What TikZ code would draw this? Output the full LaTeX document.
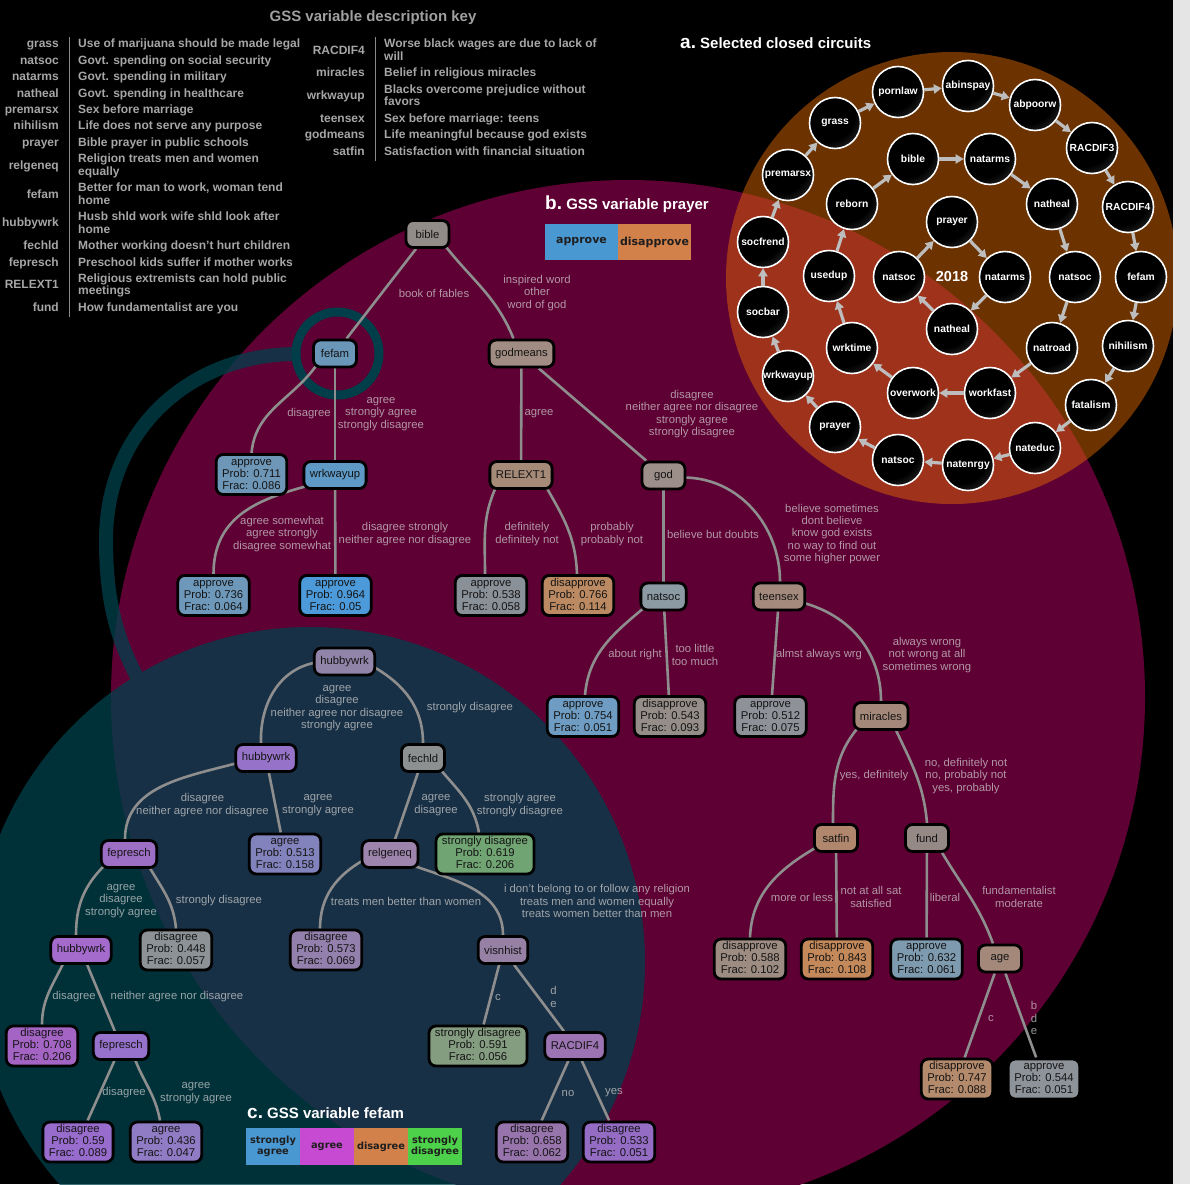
\documentclass[tikz,border=0pt]{standalone}
\usepackage{fontspec}
\setmainfont{Liberation Sans}
\newfontfamily\legfont{DejaVu Sans}
\usetikzlibrary{arrows.meta,calc}
\pgfdeclarelayer{bg}
\pgfdeclarelayer{edgelayer}
\pgfsetlayers{bg,edgelayer,main}
\pgfdeclareradialshading{cballshade}{\pgfpoint{-12bp}{14bp}}{color(0bp)=(black);color(28bp)=(black);color(70bp)=(black!42!white);color(90bp)=(black!42!white)}

\definecolor{cMaroon}{HTML}{5E0033}
\definecolor{cTeal}{HTML}{01414C}
\definecolor{cRing}{HTML}{003E49}
\definecolor{cOrg}{HTML}{E66C00}
\definecolor{cStrip}{HTML}{E5E5E5}
\definecolor{cArrow}{HTML}{BDBDBD}
\definecolor{cEdge}{HTML}{8E8E8E}
\definecolor{cLab}{HTML}{D2D2D2}
\definecolor{cKey}{HTML}{A6A6A6}
\definecolor{cKeyLine}{HTML}{8A8A8A}
\definecolor{cTitle}{HTML}{A0A0A0}
\definecolor{cLegBlue}{HTML}{4A98D2}
\definecolor{cLegOrg}{HTML}{D3814A}
\definecolor{cLegMag}{HTML}{C74BD2}
\definecolor{cLegGrn}{HTML}{4DD04A}
\definecolor{cLegTxt}{HTML}{1E1E1E}
% tree b fills
\definecolor{fBible}{HTML}{928C89}
\definecolor{fFefam}{HTML}{6A96B8}
\definecolor{fGodm}{HTML}{A08C82}
\definecolor{fA711}{HTML}{6E96B6}
\definecolor{fWrk}{HTML}{5F9AC6}
\definecolor{fRelext}{HTML}{A58A78}
\definecolor{fA736}{HTML}{6E98BA}
\definecolor{fA964}{HTML}{4C9ADA}
\definecolor{fA538}{HTML}{8A9098}
\definecolor{fD766}{HTML}{BC8A62}
\definecolor{fGod}{HTML}{9C8E88}
\definecolor{fNatsoc}{HTML}{8C9AA4}
\definecolor{fTeen}{HTML}{A48A7C}
\definecolor{fA754}{HTML}{6E9CC2}
\definecolor{fD543}{HTML}{958E88}
\definecolor{fA512}{HTML}{8E9298}
\definecolor{fMir}{HTML}{A4897A}
\definecolor{fSatfin}{HTML}{B0876C}
\definecolor{fFund}{HTML}{958986}
\definecolor{fD588}{HTML}{9C8C82}
\definecolor{fD843}{HTML}{C4895A}
\definecolor{fA632}{HTML}{7E9AAE}
\definecolor{fAge}{HTML}{A4897A}
\definecolor{fD747}{HTML}{B48A6C}
\definecolor{fA544}{HTML}{8E9299}
% tree c fills
\definecolor{fHw1}{HTML}{9084A8}
\definecolor{fHw2}{HTML}{9673C8}
\definecolor{fFechld}{HTML}{8C9090}
\definecolor{fFep1}{HTML}{9C6EC4}
\definecolor{fA513}{HTML}{8282BC}
\definecolor{fRelg}{HTML}{9C84AC}
\definecolor{fS619}{HTML}{70A472}
\definecolor{fHw3}{HTML}{A46ACC}
\definecolor{fD448}{HTML}{8C9296}
\definecolor{fD573}{HTML}{9480AC}
\definecolor{fVis}{HTML}{9680A4}
\definecolor{fD708}{HTML}{A464C4}
\definecolor{fFep2}{HTML}{9672CC}
\definecolor{fS591}{HTML}{849C80}
\definecolor{fRac}{HTML}{9C74B4}
\definecolor{fD590}{HTML}{986CCC}
\definecolor{fA436}{HTML}{907CC4}
\definecolor{fD658}{HTML}{9874AC}
\definecolor{fD533}{HTML}{946CC4}

\newcommand{\tnfont}{\fontsize{11.3}{12}\selectfont}
\newcommand{\labfont}{\fontsize{11.3}{12.3}\selectfont}
\newcommand{\keyfont}{\fontsize{12}{13}\selectfont\bfseries}
\newcommand{\circfont}{\fontsize{10.3}{11}\selectfont\bfseries}
\newcommand{\legAfont}{\legfont\fontsize{11}{12}\selectfont\bfseries}
\newcommand{\legBfont}{\legfont\fontsize{9.8}{11}\selectfont\bfseries}
\newcommand{\circnode}[3]{\node[cball] (#1) at (#2) {}; \node[ctxt] at (#1.center) {#3};}
\newcommand{\keyL}[3]{\node[keyt, anchor=mid east] at (#1,-#2) {#3};}
\newcommand{\keyR}[3]{\node[keyt, anchor=mid west] at (#1,-#2) {#3};}
\newcommand{\leaftext}[3]{\rule[-0pt]{0pt}{8.6pt}#1\\#2\\#3\rule[-3.4pt]{0pt}{3.4pt}}

\begin{document}
\begin{tikzpicture}[x=1pt,y=1pt,
  tn/.style={draw=black, line width=2.8pt, rounded corners=7pt, inner xsep=6pt, inner ysep=2pt, minimum height=27pt, minimum width=43pt, align=center, font=\tnfont, text=black!92},
  lab/.style={font=\labfont, text=cLab, text opacity=0.72, align=center, inner sep=0pt},
  edge/.style={draw=cEdge, line width=2.6pt},
  cball/.style={circle, minimum size=51pt, inner sep=0pt, draw=white, line width=1.6pt, shade, shading=cballshade},
  ctxt/.style={text=white, font=\circfont, inner sep=0pt},
  carr/.style={draw=cArrow, line width=3.2pt, -{Triangle[length=8pt,width=9pt]}},
  keyt/.style={font=\keyfont, text=cKey, inner sep=0pt},
  legbox/.style={inner sep=0pt, align=center, text=cLegTxt}
]
\useasboundingbox (0,0) rectangle (1190,-1184);

% ---------------- backgrounds ----------------
\begin{pgfonlayer}{bg}
\fill[black] (0,0) rectangle (1190,-1184);
\begin{scope}
\clip (0,0) rectangle (1190,-1184);
\fill[cMaroon] (628,-697) circle (517);
\fill[cTeal, opacity=0.75] (310,-962) circle (335);
\begin{scope}
\clip (1190,0) -- (1190,-1184) -- (0,-1184) -- (0,0) -- cycle (310,-962) circle (335);
\draw[cTeal, opacity=0.75, line width=14pt] (297,-354) .. controls (190,-354) and (106,-430) .. (106,-540) .. controls (106,-610) and (120,-650) .. (150,-700);
\end{scope}
\draw[cRing, line width=9pt] (337.5,-353.5) circle (41.5);
\fill[cOrg, opacity=0.47] (952,-278) circle (226);
\end{scope}
\end{pgfonlayer}

% ---------------- key ----------------
\node[font=\fontsize{15}{16}\selectfont\bfseries, text=cTitle, inner sep=0pt] at (373,-18) {GSS variable description key};
\draw[cKeyLine, line width=1pt] (69,-37) -- (69,-317);
\draw[cKeyLine, line width=1pt] (375,-37) -- (375,-161);
\keyL{59}{45}{grass}\keyR{78}{45}{Use of marijuana should be made legal}
\keyL{59}{62}{natsoc}\keyR{78}{62}{Govt. spending on social security}
\keyL{59}{78}{natarms}\keyR{78}{78}{Govt. spending in military}
\keyL{59}{95}{natheal}\keyR{78}{95}{Govt. spending in healthcare}
\keyL{59}{111}{premarsx}\keyR{78}{111}{Sex before marriage}
\keyL{59}{127}{nihilism}\keyR{78}{127}{Life does not serve any purpose}
\keyL{59}{144}{prayer}\keyR{78}{144}{Bible prayer in public schools}
\keyL{59}{167}{relgeneq}\keyR{78}{160}{Religion treats men and women}\keyR{78}{173}{equally}
\keyL{59}{196}{fefam}\keyR{78}{189}{Better for man to work, woman tend}\keyR{78}{202}{home}
\keyL{59}{224}{hubbywrk}\keyR{78}{218}{Husb shld work wife shld look after}\keyR{78}{231}{home}
\keyL{59}{247}{fechld}\keyR{78}{247}{Mother working doesn't hurt children}
\keyL{59}{264}{fepresch}\keyR{78}{264}{Preschool kids suffer if mother works}
\keyL{59}{286}{RELEXT1}\keyR{78}{280}{Religious extremists can hold public}\keyR{78}{292}{meetings}
\keyL{59}{309}{fund}\keyR{78}{309}{How fundamentalist are you}
\keyL{365}{52}{RACDIF4}\keyR{384}{45}{Worse black wages are due to lack of}\keyR{384}{58}{will}
\keyL{365}{74}{miracles}\keyR{384}{74}{Belief in religious miracles}
\keyL{365}{97}{wrkwayup}\keyR{384}{91}{Blacks overcome prejudice without}\keyR{384}{103}{favors}
\keyL{365}{120}{teensex}\keyR{384}{120}{Sex before marriage: teens}
\keyL{365}{136}{godmeans}\keyR{384}{136}{Life meaningful because god exists}
\keyL{365}{153}{satfin}\keyR{384}{153}{Satisfaction with financial situation}

% ---------------- headings & legends ----------------
\node[anchor=base west, text=white, inner sep=0pt] at (680,-48) {\fontsize{19}{20}\selectfont\bfseries a.\fontsize{15}{16}\selectfont\ Selected closed circuits};
\node[anchor=base west, text=white, inner sep=0pt] at (545,-209) {\fontsize{19}{20}\selectfont\bfseries b.\fontsize{15}{16}\selectfont\ GSS variable prayer};
\node[anchor=base west, text=white, inner sep=0pt] at (247,-1118) {\fontsize{19}{20}\selectfont\bfseries c.\fontsize{15}{16}\selectfont\ GSS variable fefam};
\node[legbox, fill=cLegBlue, minimum width=73pt, minimum height=36pt, font=\legAfont] (lgb1) at (581.5,-242) {approve};
\node[legbox, fill=cLegOrg, minimum width=73pt, minimum height=36pt, font=\legAfont] (lgb2) at (654.5,-242) {disapprove};
\node[legbox, fill=cLegBlue, minimum width=54pt, minimum height=37pt, font=\legBfont] (lgc1) at (273,-1146.5) {strongly\\agree};
\node[legbox, fill=cLegMag, minimum width=54pt, minimum height=37pt, font=\legBfont] (lgc2) at (327,-1146.5) {agree};
\node[legbox, fill=cLegOrg, minimum width=54pt, minimum height=37pt, font=\legBfont] (lgc3) at (381,-1146.5) {disagree};
\node[legbox, fill=cLegGrn, minimum width=54pt, minimum height=37pt, font=\legBfont] (lgc4) at (435,-1146.5) {strongly\\disagree};

% ---------------- circuits ----------------
\circnode{cgrass}{835,-123}{grass}
\circnode{cpornlaw}{898,-92}{pornlaw}
\circnode{cabinspay}{968,-86}{abinspay}
\circnode{cabpoorw}{1035,-105}{abpoorw}
\circnode{cracdifthree}{1092,-148}{RACDIF3}
\circnode{cracdiffour}{1128,-207}{RACDIF4}
\circnode{cfefam}{1141,-277}{fefam}
\circnode{cnihilism}{1128,-346}{nihilism}
\circnode{cfatalism}{1091,-405}{fatalism}
\circnode{cnateduc}{1035,-448}{nateduc}
\circnode{cnatenrgy}{968,-465}{natenrgy}
\circnode{cnatsocO}{898,-460}{natsoc}
\circnode{cprayerO}{835,-427}{prayer}
\circnode{cwrkwayup}{788,-376}{wrkwayup}
\circnode{csocbar}{763,-312}{socbar}
\circnode{csocfrend}{763,-242}{socfrend}
\circnode{cpremarsx}{788,-175}{premarsx}
\circnode{cbible}{913,-159}{bible}
\circnode{cnatarmsM}{990,-159}{natarms}
\circnode{cnathealM}{1052,-204}{natheal}
\circnode{cnatsocM}{1075,-277}{natsoc}
\circnode{cnatroad}{1052,-348}{natroad}
\circnode{cworkfast}{990,-393}{workfast}
\circnode{coverwork}{913,-393}{overwork}
\circnode{cwrktime}{852,-348}{wrktime}
\circnode{cusedup}{829,-276}{usedup}
\circnode{creborn}{852,-204}{reborn}
\circnode{cprayerI}{952,-222}{prayer}
\circnode{cnatarmsI}{1005,-277}{natarms}
\circnode{cnathealI}{952,-329}{natheal}
\circnode{cnatsocI}{899,-277}{natsoc}
\node[text=white, font=\fontsize{14.5}{15}\selectfont\bfseries, inner sep=0pt] (c2018) at (952,-277) {2018};

\draw[carr] (cgrass) -- (cpornlaw);
\draw[carr] (cpornlaw) -- (cabinspay);
\draw[carr] (cabinspay) -- (cabpoorw);
\draw[carr] (cabpoorw) -- (cracdifthree);
\draw[carr] (cracdifthree) -- (cracdiffour);
\draw[carr] (cracdiffour) -- (cfefam);
\draw[carr] (cfefam) -- (cnihilism);
\draw[carr] (cnihilism) -- (cfatalism);
\draw[carr] (cfatalism) -- (cnateduc);
\draw[carr] (cnateduc) -- (cnatenrgy);
\draw[carr] (cnatenrgy) -- (cnatsocO);
\draw[carr] (cnatsocO) -- (cprayerO);
\draw[carr] (cprayerO) -- (cwrkwayup);
\draw[carr] (cwrkwayup) -- (csocbar);
\draw[carr] (csocbar) -- (csocfrend);
\draw[carr] (csocfrend) -- (cpremarsx);
\draw[carr] (cpremarsx) -- (cgrass);
\draw[carr] (cbible) -- (cnatarmsM);
\draw[carr] (cnatarmsM) -- (cnathealM);
\draw[carr] (cnathealM) -- (cnatsocM);
\draw[carr] (cnatsocM) -- (cnatroad);
\draw[carr] (cnatroad) -- (cworkfast);
\draw[carr] (cworkfast) -- (coverwork);
\draw[carr] (coverwork) -- (cwrktime);
\draw[carr] (cwrktime) -- (cusedup);
\draw[carr] (cusedup) -- (creborn);
\draw[carr] (creborn) -- (cbible);
\draw[carr] (cprayerI) -- (cnatarmsI);
\draw[carr] (cnatarmsI) -- (cnathealI);
\draw[carr] (cnathealI) -- (cnatsocI);
\draw[carr] (cnatsocI) -- (cprayerI);

% ---------------- tree b nodes ----------------
\node[tn, fill=fBible] (bible) at (427.5,-234) {bible};
\node[tn, fill=fFefam] (fefam) at (335,-353.5) {fefam};
\node[tn, fill=fGodm] (godmeans) at (521.5,-353.5) {godmeans};
\node[tn, fill=fA711] (l711) at (251.5,-474.5) {\leaftext{approve}{Prob: 0.711}{Frac: 0.086}};
\node[tn, fill=fWrk] (wrkwayup) at (335,-475) {wrkwayup};
\node[tn, fill=fRelext] (relext) at (521,-475) {RELEXT1};
\node[tn, fill=fGod] (god) at (663.5,-475.5) {god};
\node[tn, fill=fA736] (l736) at (213.5,-595.5) {\leaftext{approve}{Prob: 0.736}{Frac: 0.064}};
\node[tn, fill=fA964] (l964) at (335.5,-595.5) {\leaftext{approve}{Prob: 0.964}{Frac: 0.05}};
\node[tn, fill=fA538] (l538) at (491,-595.5) {\leaftext{approve}{Prob: 0.538}{Frac: 0.058}};
\node[tn, fill=fD766] (l766) at (578,-595.5) {\leaftext{disapprove}{Prob: 0.766}{Frac: 0.114}};
\node[tn, fill=fNatsoc] (natsocT) at (663.5,-596.5) {natsoc};
\node[tn, fill=fTeen] (teensex) at (779,-596.5) {teensex};
\node[tn, fill=fA754] (l754) at (583,-716.5) {\leaftext{approve}{Prob: 0.754}{Frac: 0.051}};
\node[tn, fill=fD543] (l543) at (670,-716.5) {\leaftext{disapprove}{Prob: 0.543}{Frac: 0.093}};
\node[tn, fill=fA512] (l512) at (770.5,-716.5) {\leaftext{approve}{Prob: 0.512}{Frac: 0.075}};
\node[tn, fill=fMir] (miracles) at (881,-716) {miracles};
\node[tn, fill=fSatfin] (satfin) at (836,-838) {satfin};
\node[tn, fill=fFund] (fund) at (927,-838) {fund};
\node[tn, fill=fD588] (l588) at (750,-959) {\leaftext{disapprove}{Prob: 0.588}{Frac: 0.102}};
\node[tn, fill=fD843] (l843) at (837,-959) {\leaftext{disapprove}{Prob: 0.843}{Frac: 0.108}};
\node[tn, fill=fA632] (l632) at (926.5,-959) {\leaftext{approve}{Prob: 0.632}{Frac: 0.061}};
\node[tn, fill=fAge] (age) at (1000,-958.5) {age};
\node[tn, fill=fD747] (l747) at (957,-1079) {\leaftext{disapprove}{Prob: 0.747}{Frac: 0.088}};
\node[tn, fill=fA544] (l544) at (1044,-1079) {\leaftext{approve}{Prob: 0.544}{Frac: 0.051}};

% ---------------- tree c nodes ----------------
\node[tn, fill=fHw1] (hw1) at (344.5,-661.5) {hubbywrk};
\node[tn, fill=fHw2] (hw2) at (266,-758) {hubbywrk};
\node[tn, fill=fFechld] (fechld) at (423,-758) {fechld};
\node[tn, fill=fFep1] (fep1) at (129,-854) {fepresch};
\node[tn, fill=fA513] (l513) at (285,-854) {\leaftext{agree}{Prob: 0.513}{Frac: 0.158}};
\node[tn, fill=fRelg] (relgeneq) at (390,-854) {relgeneq};
\node[tn, fill=fS619] (l619) at (485,-854) {\leaftext{strongly disagree}{Prob: 0.619}{Frac: 0.206}};
\node[tn, fill=fHw3] (hw3) at (81,-950) {hubbywrk};
\node[tn, fill=fD448] (l448) at (176,-950) {\leaftext{disagree}{Prob: 0.448}{Frac: 0.057}};
\node[tn, fill=fD573] (l573) at (326,-950) {\leaftext{disagree}{Prob: 0.573}{Frac: 0.069}};
\node[tn, fill=fVis] (visnhist) at (503,-950) {visnhist};
\node[tn, fill=fD708] (l708) at (42,-1046) {\leaftext{disagree}{Prob: 0.708}{Frac: 0.206}};
\node[tn, fill=fFep2] (fep2) at (121,-1046) {fepresch};
\node[tn, fill=fS591] (l591) at (478,-1046) {\leaftext{strongly disagree}{Prob: 0.591}{Frac: 0.056}};
\node[tn, fill=fRac] (racdifT) at (575,-1046) {RACDIF4};
\node[tn, fill=fD590] (l590) at (78,-1142) {\leaftext{disagree}{Prob: 0.59}{Frac: 0.089}};
\node[tn, fill=fA436] (l436) at (166,-1142) {\leaftext{agree}{Prob: 0.436}{Frac: 0.047}};
\node[tn, fill=fD658] (l658) at (532,-1142) {\leaftext{disagree}{Prob: 0.658}{Frac: 0.062}};
\node[tn, fill=fD533] (l533) at (619,-1142) {\leaftext{disagree}{Prob: 0.533}{Frac: 0.051}};

% ---------------- edges ----------------
\begin{pgfonlayer}{edgelayer}
\draw[edge] (bible) -- (fefam);
\draw[edge] ($(bible.south east)+(-6,4)$) to[out=-52,in=112] ($(godmeans.north)+(-8,0)$);
\draw[edge] ($(fefam.south west)+(5,4)$) to[out=-125,in=85] (l711.north);
\draw[edge] (fefam) -- (wrkwayup);
\draw[edge] ($(wrkwayup.south west)+(5,4)$) to[out=195,in=90,looseness=1.1] (l736.north);
\draw[edge] (wrkwayup) -- (l964);
\draw[edge] (godmeans) -- (relext);
\draw[edge] (godmeans) -- (god);
\draw[edge] ($(relext.south west)+(8,4)$) to[out=-115,in=90] ($(l538.north)+(-6,0)$);
\draw[edge] ($(relext.south east)+(-8,4)$) to[out=-60,in=92] ($(l766.north)+(-1,0)$);
\draw[edge] (god) -- (natsocT);
\draw[edge] ($(god.east)+(-3,-2)$) to[out=0,in=90] ($(teensex.north)+(1,0)$);
\draw[edge] ($(natsocT.south west)+(5,4)$) to[out=-140,in=85] ($(l754.north)+(2,0)$);
\draw[edge] (natsocT) -- (l543);
\draw[edge] (teensex) -- (l512);
\draw[edge] ($(teensex.east)+(-4,-6)$) to[out=-15,in=90] (miracles.north);
\draw[edge] ($(miracles.south west)+(6,4)$) to[out=-130,in=90] ($(satfin.north)+(-3,0)$);
\draw[edge] ($(miracles.south east)+(-15,4)$) to[out=-65,in=95] (fund.north);
\draw[edge] ($(satfin.south west)+(4,6)$) to[out=-150,in=88] (l588.north);
\draw[edge] (satfin) -- (l843);
\draw[edge] (fund) -- (l632);
\draw[edge] ($(fund.south east)+(-10,4)$) to[out=-60,in=110] ($(age.north)+(-7,0)$);
\draw[edge] (age) -- (l747);
\draw[edge] (age) -- (l544);
% tree c
\draw[edge] ($(hw1.west)+(3,-1)$) to[out=190,in=92] ($(hw2.north)+(-5,0)$);
\draw[edge] ($(hw1.east)+(-3,-5)$) to[out=-30,in=90] (fechld.north);
\draw[edge] ($(hw2.west)+(3,-5)$) to[out=195,in=90] ($(fep1.north)+(-4,0)$);
\draw[edge] (hw2) -- (l513);
\draw[edge] (fechld) -- (relgeneq);
\draw[edge] ($(fechld.south east)+(-6,4)$) to[out=-50,in=100] ($(l619.north)+(-6,0)$);
\draw[edge] ($(fep1.south west)+(5,4)$) to[out=-135,in=90] ($(hw3.north)+(-5,0)$);
\draw[edge] ($(fep1.south east)+(-10,4)$) to[out=-60,in=95] (l448.north);
\draw[edge] ($(relgeneq.west)+(3,-6)$) to[out=-150,in=90] ($(l573.north)+(-6,0)$);
\draw[edge] ($(relgeneq.south east)+(-8,4)$) to[out=-20,in=90] (visnhist.north);
\draw[edge] ($(hw3.south west)+(15,4)$) to[out=-115,in=90] (l708.north);
\draw[edge] (hw3) -- (fep2);
\draw[edge] (visnhist) -- (l591);
\draw[edge] (visnhist) -- (racdifT);
\draw[edge] (fep2) -- (l590);
\draw[edge] ($(fep2.south east)+(-16,4)$) to[out=-70,in=100] ($(l436.north)+(-6,0)$);
\draw[edge] (racdifT) -- (l658);
\draw[edge] (racdifT) -- (l533);
\end{pgfonlayer}

% ---------------- edge labels ----------------
\node[lab] at (434,-293) {book of fables};
\node[lab] at (537,-293) {inspired word\\other\\word of god};
\node[lab] at (309,-414) {disagree};
\node[lab] at (381,-414) {agree\\strongly agree\\strongly disagree};
\node[lab] at (539,-414) {agree};
\node[lab] at (692,-414) {disagree\\neither agree nor disagree\\strongly agree\\strongly disagree};
\node[lab] at (282,-534) {agree somewhat\\agree strongly\\disagree somewhat};
\node[lab] at (405,-534) {disagree strongly\\neither agree nor disagree};
\node[lab] at (527,-534) {definitely\\definitely not};
\node[lab] at (612,-534) {probably\\probably not};
\node[lab] at (713,-534) {believe but doubts};
\node[lab] at (832,-534) {believe sometimes\\dont believe\\know god exists\\no way to find out\\some higher power};
\node[lab] at (635,-655) {about right};
\node[lab] at (695,-655) {too little\\too much};
\node[lab] at (819,-655) {almst always wrg};
\node[lab] at (927,-655) {always wrong\\not wrong at all\\sometimes wrong};
\node[lab] at (874,-776) {yes, definitely};
\node[lab] at (966,-776) {no, definitely not\\no, probably not\\yes, probably};
\node[lab] at (802,-897) {more or less};
\node[lab] at (871,-897) {not at all sat\\satisfied};
\node[lab] at (945,-897) {liberal};
\node[lab] at (1019,-897) {fundamentalist\\moderate};
\node[lab] at (991,-1018) {c};
\node[lab] at (1034,-1018) {b\\d\\e};
\node[lab] at (337,-708) {agree\\disagree\\neither agree nor disagree\\strongly agree};
\node[lab] at (470,-708) {strongly disagree};
\node[lab] at (202.5,-805) {disagree\\neither agree nor disagree};
\node[lab] at (318,-805) {agree\\strongly agree};
\node[lab] at (436,-805) {agree\\disagree};
\node[lab] at (520,-805) {strongly agree\\strongly disagree};
\node[lab] at (121,-901) {agree\\disagree\\strongly agree};
\node[lab] at (219,-901) {strongly disagree};
\node[lab] at (406,-901) {treats men better than women};
\node[lab] at (597,-901) {i don't belong to or follow any religion\\treats men and women equally\\treats women better than men};
\node[lab] at (74,-997) {disagree};
\node[lab] at (177,-997) {neither agree nor disagree};
\node[lab] at (498,-997) {c};
\node[lab] at (553.5,-997) {d\\e};
\node[lab] at (124,-1093) {disagree};
\node[lab] at (196,-1093) {agree\\strongly agree};
\node[lab] at (568,-1093) {no};
\node[lab] at (614,-1093) {yes};

% ---------------- right strip ----------------
\fill[cStrip] (1173,0) rectangle (1190,-1184);
\end{tikzpicture}
\end{document}
